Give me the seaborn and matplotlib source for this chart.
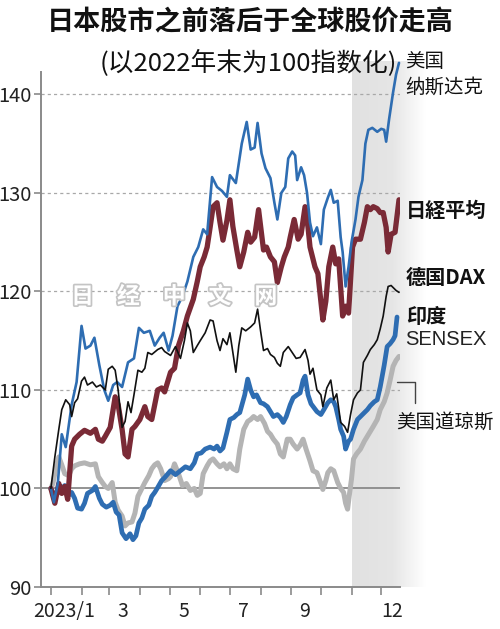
import seaborn as sns
import matplotlib.pyplot as plt
import matplotlib.dates as mdates
import matplotlib.patheffects as pe
from matplotlib.lines import Line2D
from matplotlib.ticker import NullFormatter
import pandas as pd
import numpy as np

# -------------------------
# Data (index, end of 2022 = 100)
# days = days after 2023-01-01
# -------------------------

start = pd.Timestamp("2023-01-01")

nasdaq_days = [0, 3, 7, 11, 15, 21, 26, 31, 35, 40, 44, 49, 54, 58, 63, 67, 72, 78, 84, 89,
               94, 100, 105, 110, 114, 119, 123, 128, 133, 138, 144, 149, 154, 158, 163, 168,
               173, 178, 181, 187, 193, 198, 202, 206, 209, 213, 217, 222, 226, 229, 233, 237,
               240, 244, 247, 249, 253, 256, 259, 262, 265, 269, 273, 276, 280, 283, 286, 290,
               293, 295, 298, 301, 304, 308, 311, 315, 318, 321, 325, 330, 334, 337, 339, 342,
               346, 349, 352]
nasdaq_vals = [100, 98.6, 100.5, 105.5, 104.2, 108.5, 110.8, 116.5, 114.2, 114.5, 115.3, 112.5,
               110, 108.9, 110.5, 110.8, 110.3, 112.8, 113.2, 116.3, 115.8, 116, 114.5, 115.3,
               115.8, 114, 115.5, 118.5, 119.5, 121, 123.5, 124.5, 126.3, 125.8, 131.6, 130.6,
               130.2, 129.6, 131.8, 131, 135, 137.2, 134.4, 134.6, 137.1, 134, 132.5, 131.5,
               129, 127.3, 130, 130.6, 133.5, 134.2, 133.8, 131.3, 132.6, 131.8, 130, 127,
               125.6, 126.5, 124.8, 128.3, 129.5, 130.3, 129, 129.2, 125.5, 124, 120.5, 122.5,
               125, 127.3, 129.6, 131.3, 135, 136.4, 136.6, 136.2, 136.5, 136.4, 135.2, 137.5,
               140.2, 142, 143.2]

nikkei_days = [0, 4, 8, 11, 14, 17, 21, 24, 29, 34, 40, 45, 48, 52, 55, 60, 65, 68, 72, 75,
               78, 82, 85, 90, 95, 98, 102, 105, 108, 112, 115, 121, 125, 129, 134, 138, 144,
               148, 151, 155, 158, 161, 164, 168, 171, 174, 178, 181, 184, 188, 191, 195, 199,
               202, 206, 210, 215, 218, 222, 226, 229, 233, 236, 240, 242, 246, 250, 253, 257,
               260, 262, 267, 270, 275, 278, 281, 285, 288, 291, 295, 298, 301, 305, 308, 313,
               317, 320, 323, 326, 330, 333, 336, 339, 341, 344, 348, 352]
nikkei_vals = [100, 98.5, 100.5, 99.5, 100.2, 98.9, 104.3, 105, 105.5, 105.9, 105.6, 106, 105,
               104.8, 105.3, 106.2, 109.3, 108.5, 106, 103.5, 103.2, 106, 106.3, 107, 108.3,
               107.3, 107, 108.5, 110, 110.2, 109.8, 111.8, 112.2, 114.5, 116, 117.5, 119.2,
               121, 122.5, 123.5, 124.5, 126.5, 128.6, 129, 127, 125.2, 127.2, 129.3, 126.6,
               124.2, 122.5, 124, 126, 125, 125.5, 128.3, 124.2, 124.5, 123.5, 123, 120.9,
               122.5, 123.5, 124.5, 125.5, 127.3, 125.3, 125.8, 128.6, 126.5, 124.5, 122.5,
               121.8, 117.1, 119, 122.5, 124.5, 122.8, 123.3, 117.5, 118.5, 117.8, 124.5, 125.3,
               125.3, 127, 128.6, 128.3, 128.6, 128.4, 128, 128, 126.5, 124, 125.8, 126, 129.3]

dax_days = [0, 4, 8, 11, 15, 19, 21, 24, 27, 31, 34, 37, 42, 46, 50, 55, 58, 62, 65, 68,
            72, 75, 78, 81, 84, 88, 92, 95, 98, 102, 108, 112, 115, 121, 126, 131, 135, 138,
            141, 144, 148, 151, 156, 161, 164, 168, 171, 174, 178, 181, 187, 190, 193, 197,
            202, 206, 209, 212, 215, 219, 222, 226, 229, 232, 235, 240, 244, 248, 252, 257,
            260, 262, 265, 269, 273, 275, 279, 283, 286, 289, 293, 297, 300, 303, 306, 310,
            313, 316, 320, 323, 327, 330, 333, 336, 339, 341, 344, 346, 349, 352]
dax_vals = [100, 103.2, 106, 108, 109, 108.5, 107.3, 108.7, 109.1, 110.9, 111.3, 110.5, 110.8,
            110.3, 110.5, 110, 112.1, 112.4, 112, 110, 106.2, 106.8, 108.8, 107.7, 109.5, 112,
            111.8, 112.2, 113.8, 113.6, 114.1, 114.3, 113.9, 113.5, 114.4, 113.2, 115, 116.8,
            116, 113.8, 114.5, 115, 115.8, 117.1, 117, 115, 114, 115.2, 114.6, 115.8, 111.8,
            114.5, 116.3, 116, 116.4, 116.8, 118.2, 116, 114, 114.2, 113.6, 113.3, 112.7,
            112.4, 113.8, 114.4, 113.8, 113.2, 113.3, 114.1, 113, 111.6, 112.2, 110, 109.5,
            108.3, 110.2, 111, 109, 109.6, 106.7, 106.3, 105.7, 107.5, 109, 109.7, 110, 112.8,
            113.5, 114.1, 114.6, 115.1, 116.2, 117.5, 119.5, 120.5, 120.6, 120.4, 120.1, 119.9]

sensex_days = [0, 4, 9, 14, 18, 21, 24, 27, 31, 34, 37, 42, 45, 49, 52, 56, 60, 63, 66, 69,
               72, 76, 80, 83, 86, 89, 92, 95, 99, 102, 105, 108, 112, 115, 121, 126, 131, 136,
               141, 145, 148, 152, 156, 161, 165, 168, 171, 174, 178, 181, 185, 188, 191, 196,
               199, 202, 205, 208, 212, 215, 219, 222, 225, 229, 232, 235, 238, 242, 245, 249,
               252, 255, 257, 260, 263, 266, 269, 273, 276, 280, 283, 286, 288, 291, 293, 296,
               298, 301, 303, 306, 310, 313, 316, 320, 323, 327, 330, 333, 337, 340, 343, 346,
               348, 350]
sensex_vals = [100, 99.2, 99.8, 100.3, 99.3, 99.6, 99, 98, 97.9, 98.5, 99.5, 99.8, 100.2, 99,
               98.4, 98.1, 98.3, 98.6, 97.6, 97.3, 95.5, 94.9, 95.4, 94.8, 95.2, 96.5, 97, 97.9,
               98.3, 99.2, 99.6, 100.1, 100.8, 101.1, 101.8, 101.4, 101.8, 102.2, 102, 102.6,
               103.5, 103.6, 104, 104.2, 104, 104.3, 103.8, 104.1, 105.7, 107, 107.2, 107.5,
               107.7, 109.5, 111.1, 110, 109.3, 109.5, 108.7, 108.6, 108.3, 107.8, 107.3, 107.5,
               107.2, 106.7, 107.3, 108.5, 109.2, 109.5, 109.7, 111, 111.4, 109.5, 108.6, 108.2,
               107.8, 107.5, 108, 108.7, 109, 108.8, 108.3, 107, 106, 105.3, 104, 104.8, 105,
               106, 107, 107.3, 107.6, 108, 108.4, 108.8, 109, 110.3, 112.5, 114.4, 114.7,
               115.1, 115.5, 117.4]

dow_days = [0, 2, 5, 8, 11, 14, 18, 21, 24, 29, 34, 40, 45, 48, 52, 55, 58, 62, 65, 68,
            72, 75, 78, 82, 85, 88, 92, 95, 99, 102, 105, 108, 111, 115, 119, 121, 125, 129,
            133, 137, 141, 145, 148, 151, 154, 158, 161, 164, 168, 171, 175, 178, 181, 184,
            188, 191, 195, 199, 202, 205, 209, 212, 216, 219, 222, 225, 229, 232, 235, 239,
            242, 245, 249, 252, 255, 258, 262, 265, 269, 273, 275, 278, 280, 283, 286, 290,
            293, 296, 298, 300, 302, 304, 306, 309, 313, 317, 320, 323, 326, 330, 333, 337,
            340, 343, 346, 349, 352]
dow_vals = [100, 100.5, 102, 103.2, 102.4, 101.5, 101.3, 102, 102.3, 102.5, 102.6, 102.4, 102.5,
            101.2, 100.6, 100.2, 100, 100.6, 98.6, 97.8, 97.2, 96.2, 96.5, 96.6, 97.5, 99.2,
            100, 100.6, 101.3, 102, 102.4, 102.6, 102, 100.8, 101, 101.2, 102.5, 101.5, 100.3,
            100.5, 99.8, 100, 99.3, 99.5, 101.5, 102.3, 102.8, 103, 102.5, 102.2, 102.5, 102,
            102.5, 102, 101.8, 104, 106, 106.8, 107, 107.3, 107, 107.3, 106.6, 105.8, 105.5,
            105, 104.5, 103.5, 103.2, 105, 105, 104.5, 104, 104.4, 105, 104, 102.8, 101.8,
            101.6, 100.5, 99.9, 100.8, 101.6, 102, 101.8, 100.6, 100, 99.6, 98.5, 97.9, 99.5,
            101, 103, 103.5, 104, 104.8, 105.3, 105.8, 106.3, 107, 108, 108.8, 109.7, 111,
            112.4, 113, 113.4]

tick_month_labels = ["2023/1", "3", "5", "7", "9", "12"]
tick_label_dates = ["2023-01-14", "2023-03-15", "2023-05-15", "2023-07-15", "2023-09-15", "2023-12-12"]
y_ticks = [90, 100, 110, 120, 130, 140]


def frame(days, vals):
    return pd.DataFrame({"date": start + pd.to_timedelta(days, unit="D"), "value": vals})


# -------------------------
# Styling
# -------------------------

sns.set_theme(style="white")
plt.rcParams["font.family"] = ["Noto Sans CJK SC", "DejaVu Sans"]

fig = plt.figure(figsize=(5, 6.29), dpi=100)
ax = fig.add_axes([0.082, 0.0668, 0.718, 0.8192])

# shaded recent period, fading out to the right
x0 = mdates.date2num(pd.Timestamp("2023-11-01"))
x1 = mdates.date2num(pd.Timestamp("2024-01-14"))
n = 200
t = np.linspace(0, 1, n)
alpha = np.where(t < 0.55, 1 - 0.15 * t / 0.55, 0.85 * (1 - (t - 0.55) / 0.45))
img = np.zeros((1, n, 4))
img[..., :3] = 0.885
img[0, :, 3] = alpha
ax.imshow(img, extent=[x0, x1, 90, 143.3], aspect="auto", clip_on=False, zorder=0,
          interpolation="bilinear")

# gridlines
for yv in [110, 120, 130, 140]:
    ax.axhline(yv, color="#a8a8a8", lw=0.9, ls=(0, (2.5, 2.5)), zorder=1)
ax.axhline(100, color="#8a8a8a", lw=1.3, zorder=1)

sns.lineplot(data=frame(dow_days, dow_vals), x="date", y="value", ax=ax,
             color="#b4b4b4", linewidth=3.6, zorder=2)
sns.lineplot(data=frame(sensex_days, sensex_vals), x="date", y="value", ax=ax,
             color="#2e6db2", linewidth=3.4, zorder=3)
sns.lineplot(data=frame(nikkei_days, nikkei_vals), x="date", y="value", ax=ax,
             color="#7a2a36", linewidth=3.8, zorder=4)
sns.lineplot(data=frame(nasdaq_days, nasdaq_vals), x="date", y="value", ax=ax,
             color="#2e6db2", linewidth=1.9, zorder=5, clip_on=False)
sns.lineplot(data=frame(dax_days, dax_vals), x="date", y="value", ax=ax,
             color="#111111", linewidth=1.2, zorder=6)

ax.set_xlim(pd.Timestamp("2022-12-22"), pd.Timestamp("2023-12-20"))
ax.set_ylim(90, 142.3)
ax.set_xlabel("")
ax.set_ylabel("")

for side in ["top", "right"]:
    ax.spines[side].set_visible(False)
for side in ["left", "bottom"]:
    ax.spines[side].set_color("#8a8a8a")
    ax.spines[side].set_linewidth(1.4)

ax.set_yticks(y_ticks)
ax.tick_params(axis="y", length=5, width=1.2, color="#8a8a8a", pad=1.5,
               labelsize=14.5, labelcolor="#222222", left=True)

ax.xaxis.set_major_locator(mdates.MonthLocator())
ax.xaxis.set_major_formatter(NullFormatter())
ax.set_xticks(mdates.date2num(pd.to_datetime(tick_label_dates)), tick_month_labels, minor=True)
ax.tick_params(axis="x", which="major", length=6, width=1.2, color="#8a8a8a", bottom=True)
ax.tick_params(axis="x", which="minor", length=0, pad=10, labelsize=14, labelcolor="#222222")

# -------------------------
# Titles and labels
# -------------------------

fig.text(0.5, 0.965, "日本股市之前落后于全球股价走高", ha="center", va="center",
         fontsize=19.5, fontweight="heavy", color="#111111")
fig.text(0.496, 0.9, "(以2022年末为100指数化)", ha="center", va="center",
         fontsize=18.5, color="#111111")

fig.text(0.81, 0.903, "美国", ha="left", va="center", fontsize=14, color="#111111")
fig.text(0.81, 0.862, "纳斯达克", ha="left", va="center", fontsize=14, color="#111111")
fig.text(0.812, 0.666, "日経平均", ha="left", va="center", fontsize=14.5, fontweight="bold",
         color="#111111", family=["Noto Sans CJK JP", "DejaVu Sans"])
fig.text(0.812, 0.5596, "德国DAX", ha="left", va="center", fontsize=14.5, fontweight="bold",
         color="#111111")
fig.text(0.812, 0.4976, "印度", ha="left", va="center", fontsize=14.5, fontweight="bold",
         color="#111111")
fig.text(0.81, 0.4595, "SENSEX", ha="left", va="center", fontsize=14.5, color="#222222",
         family=["Liberation Sans", "DejaVu Sans"])
fig.text(0.792, 0.329, "美国道琼斯", ha="left", va="center", fontsize=14, color="#111111")
fig.add_artist(Line2D([0.794, 0.83, 0.83], [0.3927, 0.3927, 0.3593],
                      transform=fig.transFigure, color="#444444", lw=1))

# watermark
fig.text(0.348, 1 - 297 / 629, "日　经　中　文　网", ha="center", va="center",
         fontsize=16.5, fontweight="bold", color="white", zorder=10,
         path_effects=[pe.Stroke(linewidth=2.5, foreground="#c4c4c4"), pe.Normal()])

plt.savefig("out.png", dpi=100)
plt.close()
